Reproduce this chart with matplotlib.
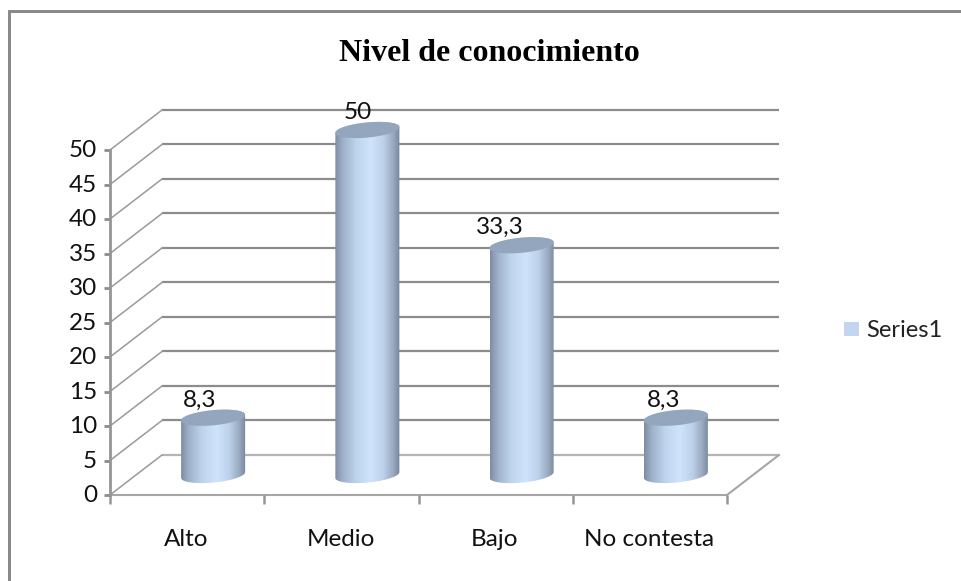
import numpy as np
import matplotlib
matplotlib.use('Agg')
import matplotlib.pyplot as plt
from matplotlib.colors import LinearSegmentedColormap
from matplotlib.patches import PathPatch, Rectangle
from matplotlib.path import Path

categories = ['Alto', 'Medio', 'Bajo', 'No contesta']
values = [8.3, 50, 33.3, 8.3]
value_labels = ['8,3', '50', '33,3', '8,3']
y_ticks = list(range(0, 55, 5))
series_name = 'Series1'
title = 'Nivel de conocimiento'

W, H = 961, 581
GRID = '#8c8c8c'
FONT = 'Lato'
TEXT_SIZE = 17.5

# 3D look: back wall is shifted by this much, in data units
DX = 0.337
DY = 5.8
# cylinder shape in data units
RX = 0.2075
RY = 1.1
TILT = 0.42
# data labels sit left of the cylinder centre in the source
LABEL_SHIFT = [-0.085, -0.065, -0.14, -0.08]


def px(x, y, w, h):
    return [x / W, 1 - (y + h) / H, w / W, h / H]


fig = plt.figure(figsize=(W / 100, H / 100), dpi=100, facecolor='white')

# border, only top and left are visible in the source
fig.add_artist(Rectangle((8.0 / W, 0), 3.0 / W, 1 - 10.0 / H, transform=fig.transFigure, color='#8a8a8a', lw=0))
fig.add_artist(Rectangle((8.0 / W, 1 - 12.5 / H), 1 - 8.0 / W, 2.5 / H, transform=fig.transFigure, color='#8a8a8a', lw=0))

ax = fig.add_axes(px(110, 150, 617, 345))
ax.axis('off')

n = len(categories)

# walls
for v in y_ticks:
    back = GRID if v else '#b4b4b4'
    ax.plot([DX, n + DX], [v + DY, v + DY], color=back, lw=1.6, clip_on=False, zorder=1, solid_capstyle='butt')
    ax.plot([0, DX], [v, v + DY], color='#9a9a9a', lw=1.1, clip_on=False, zorder=1)
    ax.plot([-0.04, 0], [v, v], color=GRID, lw=2, clip_on=False, zorder=2, solid_capstyle='butt')

# floor and axes
ax.plot([0, n, n + DX], [0, 0, DY], color='#a6a6a6', lw=1.5, clip_on=False, zorder=2)
ax.plot([0, 0], [0, 50], color='#969696', lw=2, clip_on=False, zorder=2)
for i in range(n + 1):
    ax.plot([i, i], [0, -1.3], color='#969696', lw=1.8, clip_on=False, zorder=2, solid_capstyle='butt')

side_cmap = LinearSegmentedColormap.from_list('side', [
    (0.0, '#7d8ca3'), (0.12, '#9fb1c9'), (0.32, '#bed3ec'), (0.55, '#cfe3fd'),
    (0.75, '#bcd0e9'), (0.9, '#98a9c0'), (1.0, '#76859b')])
grad = np.linspace(0, 1, 256).reshape(1, -1)


def ellipse_xy(cx, cy, t):
    return cx + RX * np.cos(t), cy + RY * np.sin(t) + TILT * np.cos(t)


for i, (val, lab) in enumerate(zip(values, value_labels)):
    cx = i + 0.5 + DX / 2
    y0 = DY / 2
    y1 = y0 + val
    # outline of the side: lower half of the base, then up and back over the top
    tb = np.linspace(np.pi, 2 * np.pi, 60)
    xb, yb = ellipse_xy(cx, y0, tb)
    tt = np.linspace(0, np.pi, 60)
    xt, yt = ellipse_xy(cx, y1, tt)
    verts = np.vstack([np.column_stack([xb, yb]), np.column_stack([xt, yt]), [[xb[0], yb[0]]]])
    codes = [Path.MOVETO] + [Path.LINETO] * (len(verts) - 2) + [Path.CLOSEPOLY]
    clip = PathPatch(Path(verts, codes), transform=ax.transData, fc='none', ec='none')
    ax.add_patch(clip)
    im = ax.imshow(grad, extent=[cx - RX, cx + RX, y0 - 2, y1 + 2], cmap=side_cmap,
                   aspect='auto', zorder=3, interpolation='bilinear')
    im.set_clip_path(clip)
    im.set_clip_box(fig.bbox)
    # top cap
    t = np.linspace(0, 2 * np.pi, 120)
    xc, yc = ellipse_xy(cx, y1, t)
    ax.fill(xc, yc, color='#94a6bd', lw=0, zorder=4, clip_on=False)
    ax.text(cx + LABEL_SHIFT[i], y1 + 1.0, lab, ha='center', va='bottom', fontsize=TEXT_SIZE,
            family=FONT, color='#111111', zorder=5, clip_on=False)

ax.set_xlim(0, n)
ax.set_ylim(0, 50)

# tick labels
for v in y_ticks:
    ax.text(-0.085, v - 0.1, str(v), ha='right', va='center', fontsize=TEXT_SIZE, family=FONT, color='#111111')
for i, c in enumerate(categories):
    ax.text(i + 0.5 - 0.005, -6.5, c, ha='center', va='center', fontsize=TEXT_SIZE, family=FONT, color='#111111')

fig.text(489 / W, 1 - 53.5 / H, title, ha='center', va='center', fontsize=23, fontweight='bold',
         family='Liberation Serif', color='black')

# legend
fig.add_artist(Rectangle((844 / W, 1 - 336 / H), 15 / W, 14 / H, transform=fig.transFigure, color='#c3d5ef', lw=0))
fig.text(866 / W, 1 - 330.5 / H, series_name, ha='left', va='center', fontsize=17, family=FONT, color='#222222')

fig.savefig('out.png', dpi=100, facecolor='white')
